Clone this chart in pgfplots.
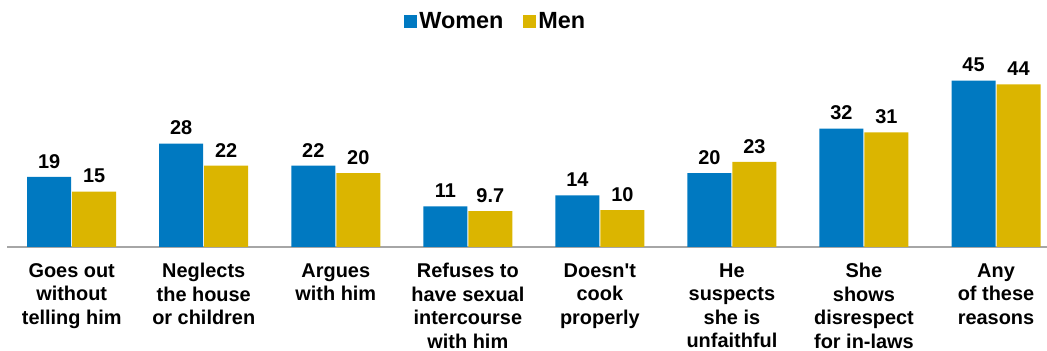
\documentclass[border=0pt]{standalone}
\usepackage{pgfplots}
\pgfplotsset{compat=1.18}
\usepackage{fontspec}
\setmainfont{Liberation Sans}
\definecolor{wblue}{HTML}{0079C1}
\definecolor{mgold}{HTML}{DBB500}
\definecolor{basegray}{HTML}{A6A6A6}
\begin{document}
\begin{tikzpicture}
\begin{axis}[
  at={(7bp,104bp)}, anchor=south west,
  scale only axis,
  width=1040bp, height=207bp,
  xmin=-0.49, xmax=7.386,
  ymin=0, ymax=56,
  ybar=1bp, bar width=44bp,
  axis y line=none,
  axis x line*=bottom,
  x axis line style={draw=basegray, line width=1.4bp, -},
  xtick=data,
  major tick length=0pt,
  xticklabels={{Goes out\\without\\telling him},{Neglects\\the house\\or children},{Argues\\with him},{Refuses to\\have sexual\\intercourse\\with him},{Doesn\textquotesingle t\\cook\\properly},{He\\suspects\\she is\\unfaithful},{She\\shows\\disrespect\\for in-laws},{Any\\of these\\reasons}},
  xticklabel style={align=center, font=\fontsize{20}{23.5}\selectfont\bfseries, anchor=north, yshift=-13bp},
  nodes near coords,
  nodes near coords style={font=\fontsize{20}{22}\selectfont\bfseries, anchor=south, yshift=5bp},
  /pgf/number format/assume math mode=true,
  legend style={at={(0.47,1.091)}, anchor=center, draw=none, legend columns=2,
    font=\fontsize{23.5}{26}\selectfont\bfseries,
    /tikz/every even column/.append style={column sep=18bp}},
  legend image code/.code={\fill[#1] (-2bp,-6.5bp) rectangle (11bp,6.5bp);},
]
\addplot[fill=wblue, draw=none] coordinates {(0,19) (1,28) (2,22) (3,11) (4,14) (5,20) (6,32) (7,45)};
\addplot[fill=mgold, draw=none] coordinates {(0,15) (1,22) (2,20) (3,9.7) (4,10) (5,23) (6,31) (7,44)};
\legend{Women,Men}
\end{axis}
\pgfresetboundingbox
\useasboundingbox (0,0) rectangle (1047bp,351bp);
\end{tikzpicture}
\end{document}
